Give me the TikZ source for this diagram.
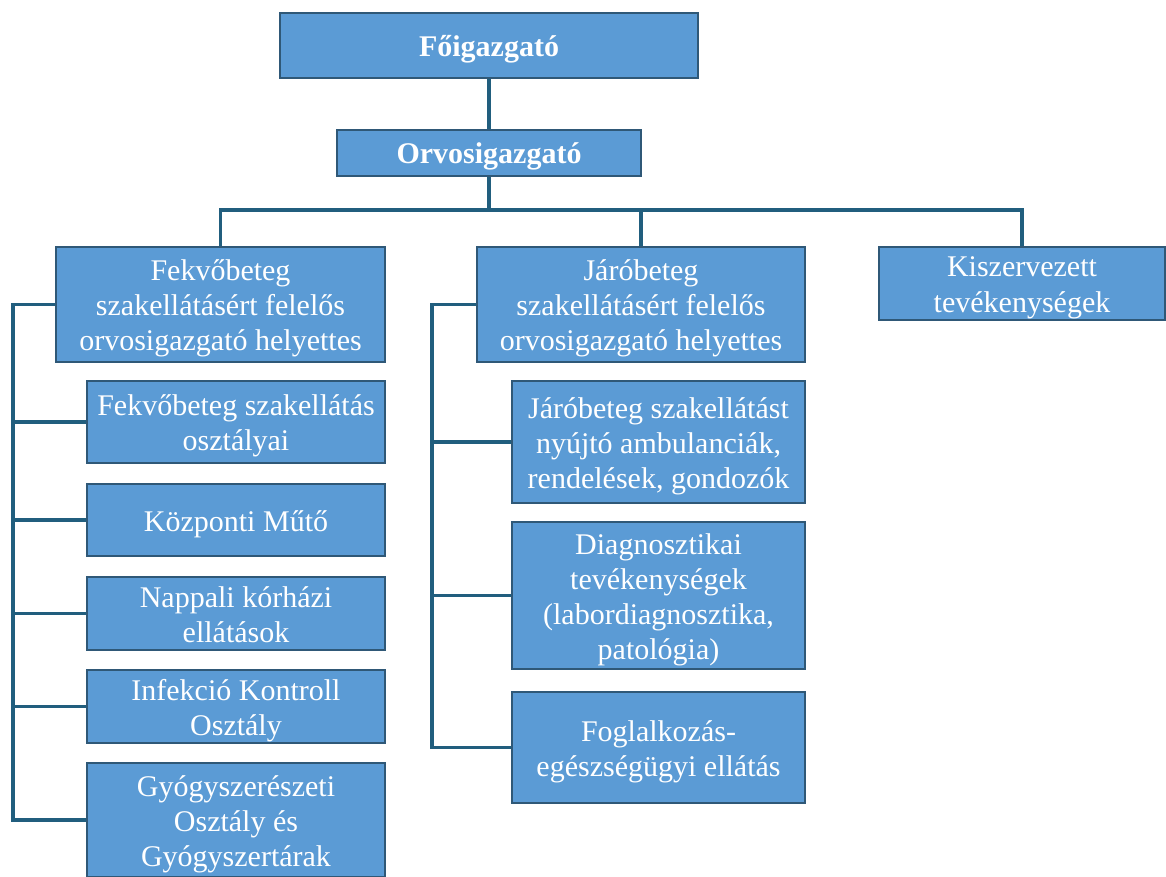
\documentclass[tikz,border=0pt]{standalone}
\usepackage{fontspec}
\setmainfont{Liberation Serif}
\definecolor{boxfill}{HTML}{5B9BD5}
\definecolor{boxline}{HTML}{2F5877}
\definecolor{conn}{HTML}{215E7E}
\newcommand\boxtext[1]{\raisebox{-4pt}[\height][\depth]{\begin{tabular}{@{}c@{}}#1\end{tabular}}}
\begin{document}
\begin{tikzpicture}[x=1pt,y=-1pt,
  orgbox/.style={draw=boxline,line width=1.3pt,fill=boxfill,text=white,
    inner sep=0pt,font=\fontsize{30}{35}\selectfont},
  conline/.style={draw=conn,line width=3.5pt}]
\useasboundingbox (0,0) rectangle (1166,877);
% boxes: at center, min width/height
\node[orgbox,minimum width=418pt,minimum height=65pt,font=\fontsize{30}{35}\selectfont\bfseries] (fo) at (489,45.5) {\boxtext{Főigazgató}};
\node[orgbox,minimum width=304pt,minimum height=46pt,font=\fontsize{30}{35}\selectfont\bfseries] (orv) at (489,153) {\boxtext{Orvosigazgató}};
\node[orgbox,minimum width=329pt,minimum height=115pt] (fek) at (220.5,304.5) {\boxtext{Fekvőbeteg\\szakellátásért felelős\\orvosigazgató helyettes}};
\node[orgbox,minimum width=328pt,minimum height=115pt] (jar) at (641,304.5) {\boxtext{Járóbeteg\\szakellátásért felelős\\orvosigazgató helyettes}};
\node[orgbox,minimum width=286pt,minimum height=73pt] (kis) at (1022,283.5) {\boxtext{Kiszervezett\\tevékenységek}};
% left children
\node[orgbox,minimum width=298pt,minimum height=82pt] (l1) at (236,422) {\boxtext{Fekvőbeteg szakellátás\\osztályai}};
\node[orgbox,minimum width=298pt,minimum height=72pt] (l2) at (236,520) {\boxtext{Központi Műtő}};
\node[orgbox,minimum width=298pt,minimum height=73pt] (l3) at (236,613.5) {\boxtext{Nappali kórházi\\ellátások}};
\node[orgbox,minimum width=298pt,minimum height=73pt] (l4) at (236,706.5) {\boxtext{Infekció Kontroll\\Osztály}};
\node[orgbox,minimum width=298pt,minimum height=114pt] (l5) at (236,820) {\boxtext{Gyógyszerészeti\\Osztály és\\Gyógyszertárak}};
% right children
\node[orgbox,minimum width=293pt,minimum height=122pt] (r1) at (658.5,442) {\boxtext{Járóbeteg szakellátást\\nyújtó ambulanciák,\\rendelések, gondozók}};
\node[orgbox,minimum width=293pt,minimum height=147pt] (r2) at (658.5,595.5) {\boxtext{Diagnosztikai\\tevékenységek\\(labordiagnosztika,\\patológia)}};
\node[orgbox,minimum width=293pt,minimum height=111pt] (r3) at (658.5,747.5) {\boxtext{Foglalkozás-\\egészségügyi ellátás}};
% helper coordinates
\coordinate (bus) at (489,210);
\coordinate (lx) at (13,0);
\coordinate (rx) at (432,0);
% connectors
\draw[conline] (fo.south) -- (orv.north);
\draw[conline] (orv.south) -- (bus);
\draw[conline] (fek.north) -- (fek.north |- bus) -- (kis.north |- bus) -- (kis.north);
\draw[conline] (jar.north) -- (jar.north |- bus);
\draw[conline] (fek.west) -- (fek.west -| lx) -- (lx |- l5.west) -- (l5.west);
\foreach \n in {l1,l2,l3,l4} \draw[conline] (\n.west -| lx) -- (\n.west);
\draw[conline] (jar.west) -- (jar.west -| rx) -- (rx |- r3.west) -- (r3.west);
\foreach \n in {r1,r2} \draw[conline] (\n.west -| rx) -- (\n.west);
\end{tikzpicture}
\end{document}
